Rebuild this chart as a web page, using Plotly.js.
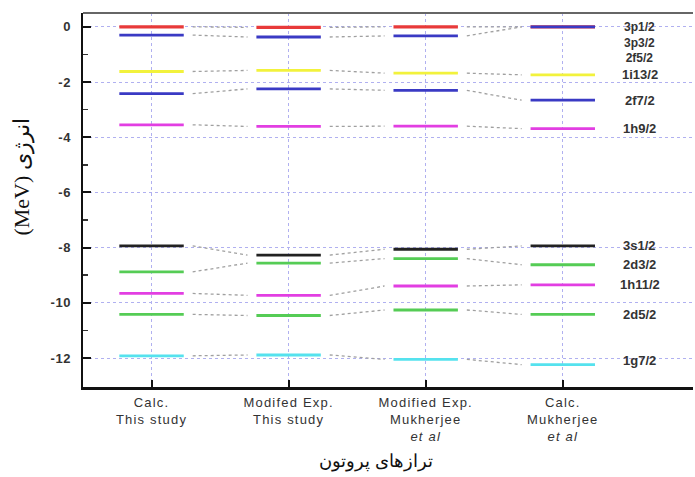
<!DOCTYPE html>
<html>
<head>
<meta charset="utf-8">
<script src="https://cdn.plot.ly/plotly-3.0.1.min.js"></script>
<style>
body{margin:0;background:#fff}
#chart{width:695px;height:477px}
.xtick text{letter-spacing:1.2px}
.ytick text{letter-spacing:0.5px}
</style>
</head>
<body>
<div id="chart"></div>
<script>
// Column (x) categories
const columns = ["Calc.<br>This study", "Modifed Exp.<br>This study", "Modified Exp.<br>Mukherjee<br><i>et al</i>", "Calc.<br>Mukherjee<br><i>et al</i>"];
// Proton states (one level per column)
const states = ["3p1/2", "3p3/2", "1i13/2", "2f7/2", "1h9/2", "3s1/2", "2d3/2", "1h11/2", "2d5/2", "1g7/2"];
const stateColors = ["#e83a3a", "#3a3ac4", "#f2f23c", "#3a3ac4", "#e23ee2", "#222222", "#55cc55", "#e23ee2", "#55cc55", "#55e2ee"];
// Energies (MeV) per column
const calcThis     = [0, -0.30, -1.62, -2.42, -3.55, -7.94, -8.88, -9.66, -10.42, -11.92];
const modExpThis   = [-0.02, -0.37, -1.58, -2.25, -3.61, -8.27, -8.56, -9.73, -10.46, -11.89];
const modExpMukh   = [0, -0.33, -1.68, -2.30, -3.60, -8.06, -8.40, -9.39, -10.26, -12.05];
const calcMukh     = [0, 0, -1.74, -2.66, -3.69, -7.94, -8.62, -9.35, -10.42, -12.24];
// Right-hand labels (first entry is a stacked group of three states)
const labelNames = ["3p1/2<br>3p3/2<br>2f5/2", "1i13/2", "2f7/2", "1h9/2", "3s1/2", "2d3/2", "1h11/2", "2d5/2", "1g7/2"];
const labelStateIdx = [0, 2, 3, 4, 5, 6, 7, 8, 9];
const yTicks = [0, -2, -4, -6, -8, -10, -12];
const yMinorTicks = [-1, -3, -5, -7, -9, -11];

const cols = [calcThis, modExpThis, modExpMukh, calcMukh];
const HALF = 0.235;
const traces = [];
// connectors
for (let c = 0; c < cols.length - 1; c++) {
  for (let s = 0; s < states.length; s++) {
    traces.push({
      x: [c + 0.30, c + 0.70], y: [cols[c][s], cols[c + 1][s]],
      mode: "lines", line: {color: "#a0a0a0", width: 1.3, dash: "dot"},
      hoverinfo: "skip", showlegend: false
    });
  }
}
// levels
for (let c = 0; c < cols.length; c++) {
  for (let s = 0; s < states.length; s++) {
    traces.push({
      x: [c - HALF, c + HALF], y: [cols[c][s], cols[c][s]],
      mode: "lines", line: {color: stateColors[s], width: (s === 0 ? 3.2 : 2.8)},
      name: states[s], showlegend: false
    });
  }
}

const annotations = labelNames.map((n, i) => ({
  x: 3.56, y: calcMukh[labelStateIdx[i]], xref: "x", yref: "y",
  text: "<b>" + n + "</b>", showarrow: false, xanchor: "center",
  yanchor: i === 0 ? "top" : "middle",
  yshift: i === 0 ? 8 : (i === labelNames.length - 1 ? 4 : 0),
  borderpad: 0,
  font: {family: "'Liberation Sans', Arial, sans-serif", size: i === 0 ? 12 : 13, color: "#333"}
}));
annotations.push({
  xref: "paper", yref: "paper", x: -0.1, y: 0.56, textangle: -90,
  text: "(MeV) انرژی", showarrow: false, xanchor: "center", yanchor: "middle",
  font: {family: "'Liberation Serif', 'DejaVu Serif', serif", size: 22, color: "#111"}
});
annotations.push({
  xref: "paper", yref: "paper", x: 0.48, y: -0.2, text: "ترازهای پروتون",
  showarrow: false, xanchor: "center", yanchor: "middle",
  font: {family: "'Liberation Serif', 'DejaVu Serif', serif", size: 18, color: "#111"}
});

const layout = {
  width: 695, height: 477,
  margin: {l: 83, r: 2, t: 13, b: 90},
  paper_bgcolor: "#fff", plot_bgcolor: "#fff",
  xaxis: {
    range: [-0.5, 3.95], tickvals: [0, 1, 2, 3], ticktext: columns,
    showgrid: true, gridcolor: "#b0b0f0", griddash: "dot", gridwidth: 1,
    zeroline: false, showline: true, linecolor: "#111", linewidth: 2.5,
    ticks: "inside", ticklen: 7, tickwidth: 2, tickcolor: "#111",
    ticklabelstandoff: 2,
    tickfont: {family: "'Liberation Sans', Arial, sans-serif", size: 13, color: "#333"}
  },
  yaxis: {
    range: [-13.05, 0.5], tickvals: yTicks, ticktext: yTicks.map(String),
    showgrid: true, gridcolor: "#b0b0f0", griddash: "dot", gridwidth: 1,
    zeroline: false, showline: true, linecolor: "#111", linewidth: 2.5,
    ticks: "inside", ticklen: 8, tickwidth: 2, tickcolor: "#111",
    ticklabelstandoff: 7,
    minor: {tickvals: yMinorTicks, ticks: "inside", ticklen: 5, tickwidth: 1.5, tickcolor: "#333", showgrid: false},
    tickfont: {family: "'Liberation Sans', Arial, sans-serif", size: 13, color: "#333", weight: "bold"}
  },
  shapes: [{type: "line", xref: "paper", yref: "paper", x0: 0, x1: 1, y0: 1, y1: 1, line: {color: "#666", width: 2}}],
  annotations: annotations
};
Plotly.newPlot("chart", traces, layout, {staticPlot: true});
</script>
</body>
</html>
